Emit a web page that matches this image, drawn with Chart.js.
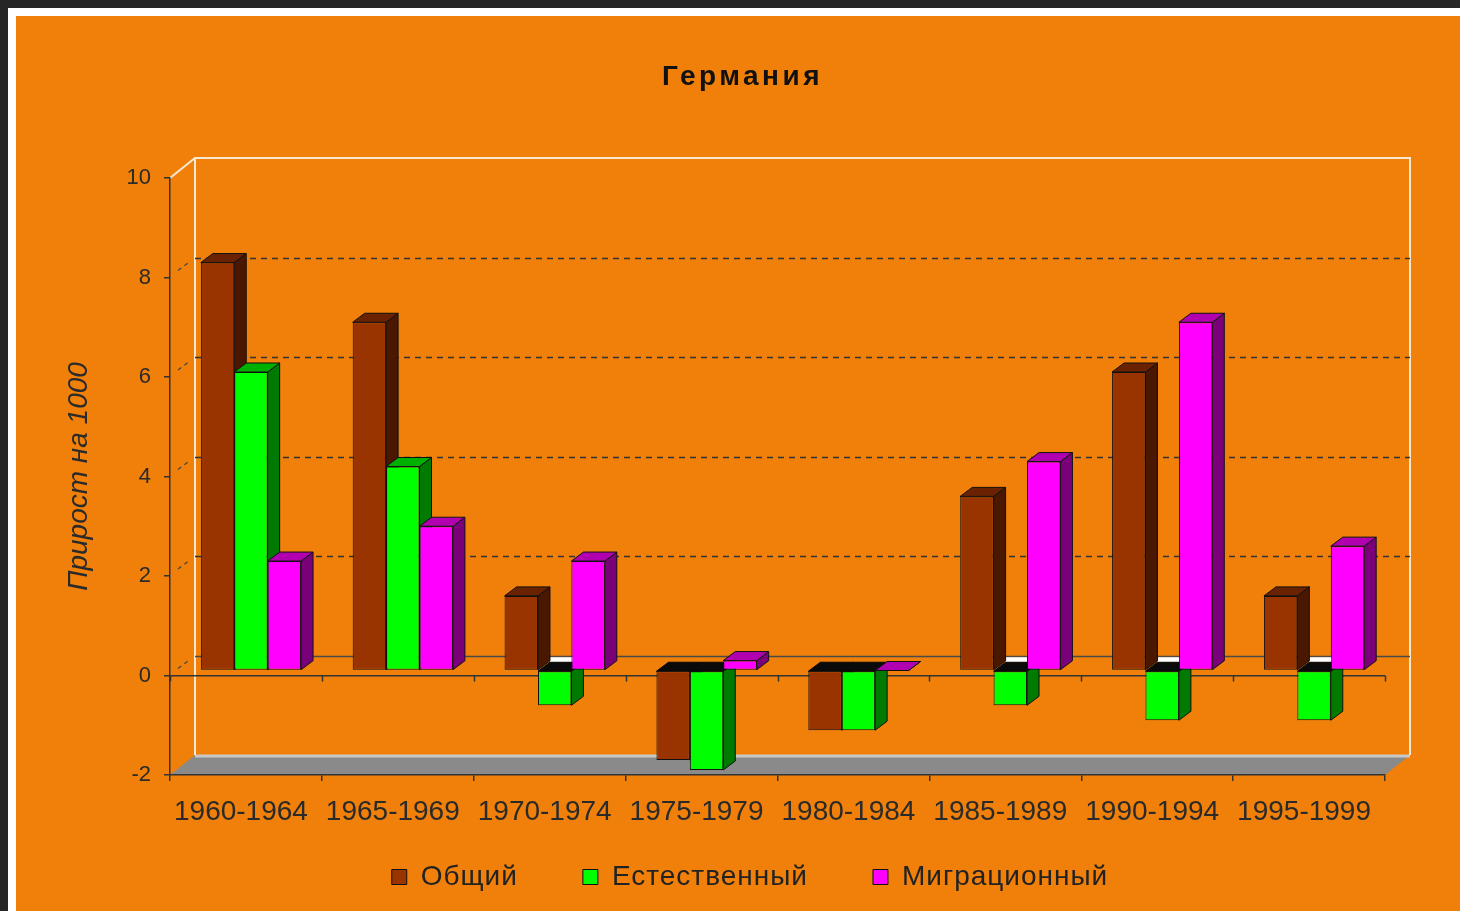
<!DOCTYPE html>
<html>
<head>
<meta charset="utf-8">
<script src="https://cdn.jsdelivr.net/npm/chart.js@4.4.1/dist/chart.umd.min.js"></script>
<style>
html,body{margin:0;padding:0;background:#262626;overflow:hidden}
canvas{display:block}
</style>
</head>
<body>
<canvas id="c" width="1460" height="911"></canvas>
<script>
// ---- data ----
const chartTitle = 'Германия';
const yAxisTitle = 'Прирост на 1000';
const categories = ['1960-1964','1965-1969','1970-1974','1975-1979','1980-1984','1985-1989','1990-1994','1995-1999'];
const seriesNames = ['Общий','Естественный','Миграционный'];
const totalGrowth = [8.2, 7.0, 1.5, -1.8, -1.2, 3.5, 6.0, 1.5];
const naturalGrowth = [6.0, 4.1, -0.7, -2.0, -1.2, -0.7, -1.0, -1.0];
const migrationGrowth = [2.2, 2.9, 2.2, 0.2, 0.0, 4.2, 7.0, 2.5];
const yTickValues = [-2, 0, 2, 4, 6, 8, 10];

// ---- style ----
const FONT = "'Liberation Sans', Arial, sans-serif";
const ORANGE = '#F0800A';
const FRONT = ['#993300', '#00FF00', '#FF00FF'];
const SIDE  = ['#4a1700', '#007a00', '#7a007a'];
const TOPC  = ['#6a2200', '#00b000', '#b000b0'];
const WALL_DX = 25, WALL_DY = -20;
const SHIFT_X = 5, SHIFT_Y = -5;
const BAR_DX = 12, BAR_DY = -9;
const LEGEND_PAD = 65;

function poly(ctx, pts, fill, stroke) {
  ctx.beginPath();
  ctx.moveTo(pts[0][0], pts[0][1]);
  for (let i = 1; i < pts.length; i++) ctx.lineTo(pts[i][0], pts[i][1]);
  ctx.closePath();
  if (fill) { ctx.fillStyle = fill; ctx.fill(); }
  if (stroke) { ctx.strokeStyle = stroke; ctx.lineWidth = 1; ctx.stroke(); }
}

function withSpacing(chart, box, spacing) {
  if (!box || box.__wrapped) return;
  const orig = box.draw;
  box.draw = function () {
    const c = chart.ctx; const prev = c.letterSpacing;
    c.letterSpacing = spacing;
    orig.apply(this, arguments);
    c.letterSpacing = prev;
  };
  box.__wrapped = true;
}

const scenePlugin = {
  id: 'scene',
  afterInit(chart) {
    withSpacing(chart, chart.titleBlock, '3.5px');
    withSpacing(chart, chart.legend, '1px');
  },
  beforeUpdate(chart) {
    chart.ctx.letterSpacing = '1px';
  },
  afterLayout(chart) {
    chart.ctx.letterSpacing = '0px';
    const lg = chart.legend;
    if (lg) {
      lg.left = 115; lg.right = 1385; lg.width = lg.right - lg.left;
      lg.top = 863 - LEGEND_PAD; lg.bottom = 911; lg.height = lg.bottom - lg.top;
    }
    const tb = chart.titleBlock;
    if (tb) {
      tb.left = 100; tb.right = 1385; tb.width = tb.right - tb.left;
    }
  },
  beforeDraw(chart) {
    const ctx = chart.ctx;
    const W = chart.width, H = chart.height;
    const ys = chart.scales.y, xs = chart.scales.x;
    const L = chart.chartArea.left, R = chart.chartArea.right;
    const yv = v => ys.getPixelForValue(v);
    ctx.save();
    // frame
    ctx.fillStyle = '#262626'; ctx.fillRect(0, 0, W, H);
    ctx.fillStyle = '#ffffff'; ctx.fillRect(8, 8, W - 8, H - 8);
    ctx.fillStyle = ORANGE; ctx.fillRect(16, 16, W - 16, H - 16);

    const yMin = yv(-2), yMax = yv(10);
    // floor
    poly(ctx, [[L, yMin], [L + WALL_DX, yMin + WALL_DY], [R + WALL_DX, yMin + WALL_DY], [R, yMin]], '#8a8a8a');
    ctx.strokeStyle = '#c8c8c8'; ctx.lineWidth = 3;
    ctx.beginPath(); ctx.moveTo(L + WALL_DX, yMin + WALL_DY + 1); ctx.lineTo(R + WALL_DX, yMin + WALL_DY + 1); ctx.stroke();

    // back wall outline
    ctx.strokeStyle = '#f7e8d2'; ctx.lineWidth = 2;
    ctx.beginPath();
    ctx.moveTo(L + WALL_DX, yMin + WALL_DY);
    ctx.lineTo(L + WALL_DX, yMax + WALL_DY);
    ctx.lineTo(R + WALL_DX, yMax + WALL_DY);
    ctx.lineTo(R + WALL_DX, yMin + WALL_DY);
    ctx.stroke();
    ctx.beginPath(); ctx.moveTo(L, yMax); ctx.lineTo(L + WALL_DX, yMax + WALL_DY); ctx.stroke();

    // dashed back gridlines
    ctx.strokeStyle = '#333'; ctx.lineWidth = 1.5; ctx.setLineDash([6, 5]);
    yTickValues.forEach(v => {
      if (v <= 0 || v >= 10) return;
      const y = Math.round(yv(v) + WALL_DY) + 0.5;
      ctx.beginPath(); ctx.moveTo(L + WALL_DX, y); ctx.lineTo(R + WALL_DX, y); ctx.stroke();
    });
    // left wall dashed diagonals
    ctx.lineWidth = 1.2; ctx.setLineDash([4, 4]); ctx.strokeStyle = '#444';
    yTickValues.forEach(v => {
      if (v < 0 || v >= 10) return;
      const y = yv(v);
      ctx.beginPath(); ctx.moveTo(L + 8, y - 7); ctx.lineTo(L + WALL_DX - 5, y + WALL_DY + 4); ctx.stroke();
    });
    ctx.setLineDash([]);
    // back zero line
    ctx.strokeStyle = '#4a4a4a'; ctx.lineWidth = 1.5;
    const y0b = Math.round(yv(0) + WALL_DY) + 0.5;
    ctx.beginPath(); ctx.moveTo(L + WALL_DX, y0b); ctx.lineTo(R + WALL_DX, y0b); ctx.stroke();

    // tick marks on front zero line at category boundaries
    ctx.strokeStyle = '#333'; ctx.lineWidth = 1.5;
    const y0 = yv(0);
    for (let i = 0; i <= categories.length; i++) {
      const x = Math.round(xs.getPixelForValue(i - 0.5)) + 0.5;
      ctx.beginPath(); ctx.moveTo(x, y0); ctx.lineTo(x, y0 + 6); ctx.stroke();
    }
    ctx.restore();
  },
  beforeDatasetsDraw(chart) {
    const ctx = chart.ctx;
    ctx.save();
    ctx.translate(SHIFT_X, SHIFT_Y);
    const n = chart.data.datasets.length;
    // white strips behind negative bars' tops
    for (let d = 1; d < n; d++) {
      const meta = chart.getDatasetMeta(d);
      meta.data.forEach((bar, i) => {
        const val = chart.data.datasets[d].data[i];
        const prev = chart.data.datasets[d - 1].data[i];
        if (val >= 0 || prev < 0) return;
        const {x, base, width} = bar.getProps(['x', 'base', 'width'], true);
        const l = x - width / 2, r = x + width / 2;
        ctx.fillStyle = '#ffffff';
        ctx.fillRect(l + BAR_DX, base + BAR_DY - 5, r - l, 5);
      });
    }
    for (let d = 0; d < n; d++) {
      const meta = chart.getDatasetMeta(d);
      meta.data.forEach((bar, i) => {
        const val = chart.data.datasets[d].data[i];
        const {x, y, base, width} = bar.getProps(['x', 'y', 'base', 'width'], true);
        const l = x - width / 2, r = x + width / 2;
        const top = Math.min(y, base), bot = Math.max(y, base);
        poly(ctx, [[r, top], [r + BAR_DX, top + BAR_DY], [r + BAR_DX, bot + BAR_DY], [r, bot]], SIDE[d], '#111');
        if (val >= 0) {
          poly(ctx, [[l, top], [l + BAR_DX, top + BAR_DY], [r + BAR_DX, top + BAR_DY], [r, top]], TOPC[d], '#111');
        } else {
          poly(ctx, [[l, base], [l + BAR_DX, base + BAR_DY], [r + BAR_DX, base + BAR_DY], [r, base]], '#0a0a0a', '#0a0a0a');
        }
      });
    }
  },
  afterDatasetsDraw(chart) {
    chart.ctx.restore();
  }
};

const seriesValues = [totalGrowth, naturalGrowth, migrationGrowth];
const datasets = seriesNames.map((name, k) => ({
  label: name,
  data: seriesValues[k],
  backgroundColor: FRONT[k],
  borderColor: '#111',
  borderWidth: 1,
  borderSkipped: false,
  categoryPercentage: 0.66,
  barPercentage: 1.0,
  clip: false
}));

new Chart(document.getElementById('c'), {
  type: 'bar',
  data: { labels: categories, datasets },
  plugins: [scenePlugin],
  options: {
    responsive: false,
    animation: false,
    devicePixelRatio: 1,
    layout: { padding: { left: 40, right: 75, top: 0, bottom: 0 } },
    plugins: {
      tooltip: { enabled: false },
      title: {
        display: true,
        text: chartTitle,
        color: '#111',
        font: { family: FONT, size: 28, weight: 'bold' },
        padding: { top: 60.2, bottom: 84.2 }
      },
      legend: {
        position: 'bottom',
        maxHeight: 40,
        labels: {
          color: '#222',
          font: { family: FONT, size: 28 },
          boxWidth: 15,
          boxHeight: 15,
          padding: LEGEND_PAD
        }
      }
    },
    scales: {
      x: {
        offset: true,
        grid: { display: true, drawOnChartArea: false, drawTicks: true, tickLength: 6, color: '#333', lineWidth: 1.5 },
        border: { display: true, color: '#333', width: 1.5 },
        ticks: { color: '#2a2a2a', font: { family: FONT, size: 28 }, padding: 14, labelOffset: -5, maxRotation: 0, autoSkip: false },
        afterFit(scale) { scale.height = 96; }
      },
      y: {
        min: -2, max: 10,
        afterBuildTicks(scale) { scale.ticks = yTickValues.map(v => ({ value: v })); },
        grid: {
          drawOnChartArea: true, drawTicks: true, tickLength: 6,
          color: c => (c.tick && c.tick.value === 0) ? '#333' : 'rgba(0,0,0,0)',
          tickColor: '#333', lineWidth: 1.5
        },
        border: { display: true, color: '#333', width: 1.5 },
        ticks: { color: '#2a2a2a', font: { family: FONT, size: 22 }, padding: 13 },
        title: {
          display: true, text: yAxisTitle, color: '#2a2a2a',
          font: { family: FONT, size: 28, style: 'italic' },
          padding: { top: 22, bottom: 0 }
        },
        afterFit(scale) { scale.width = 130; }
      }
    }
  }
});
</script>
</body>
</html>
